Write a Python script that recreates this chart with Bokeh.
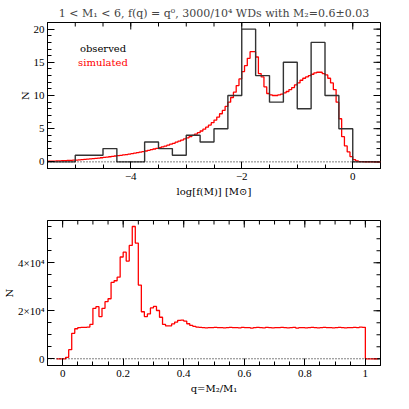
import math
from bokeh.plotting import figure
from bokeh.layouts import column
from bokeh.models import Span, FixedTicker
from bokeh.core.properties import value
from bokeh.embed import file_html
from bokeh.resources import INLINE

# ---------------- data ----------------
# top panel: log f(M) histograms
obs_start, obs_width = -5.5, 0.25
obs_counts = [0, 0, 1, 1, 2, 0, 0, 3, 2, 1, 4, 3,
              5, 10, 20, 13, 9, 15, 8, 18, 10, 5, 0, 0]

sim_start, sim_width = -5.5, 0.05
sim_counts = [
    0.10, 0.11, 0.12, 0.14, 0.16, 0.18, 0.19, 0.21, 0.23, 0.25,
    0.27, 0.30, 0.33, 0.37, 0.40, 0.44, 0.48, 0.52, 0.57, 0.62,
    0.67, 0.72, 0.77, 0.82, 0.88, 0.93, 0.99, 1.04, 1.10, 1.17,
    1.24, 1.31, 1.39, 1.47, 1.55, 1.64, 1.74, 1.84, 1.94, 2.04,
    2.14, 2.26, 2.38, 2.52, 2.66, 2.80, 2.96, 3.12, 3.28, 3.45,
    3.62, 3.80, 3.98, 4.18, 4.40, 4.65, 4.92, 5.22, 5.55, 5.90,
    6.30, 6.75, 7.25, 7.75, 8.35, 9.00, 9.70, 10.5, 11.5, 12.5,
    13.6, 14.5, 15.6, 16.6, 16.6, 15.8, 13.3, 12.8, 11.3, 10.3,
    10.1, 10.0, 10.0, 10.1, 10.2, 10.4, 10.6, 10.9, 11.2, 11.6,
    11.9, 12.3, 12.6, 12.8, 13.0, 13.2, 13.4, 13.5, 13.5, 13.3,
    13.1, 12.6, 11.9, 10.9, 9.0, 6.5, 3.8, 2.4, 1.5, 0.8,
    0.35, 0.15, 0.05, 0.03, 0.02, 0.02, 0.02, 0.02, 0.02, 0.02,
]

# bottom panel: q = M2/M1 histogram (counts in units of 1e4)
q_start, q_width = -0.02, 0.01
q_counts_1e4 = [
    0.0, 0.0, 0.0, 0.06, 0.38, 1.06, 1.25, 1.30, 1.31, 1.31,
    1.32, 1.43, 2.10, 2.17, 1.76, 2.10, 2.38, 2.50, 3.18, 3.25,
    3.40, 4.24, 4.44, 4.07, 4.72, 5.51, 4.82, 3.07, 1.96, 1.76,
    1.87, 2.12, 2.18, 2.01, 1.73, 1.43, 1.37, 1.37, 1.45, 1.53,
    1.60, 1.61, 1.57, 1.46, 1.39, 1.35, 1.32,
    1.31, 1.30, 1.29, 1.30, 1.30, 1.31, 1.30, 1.30, 1.29, 1.30,
    1.31, 1.30, 1.30, 1.29, 1.31, 1.30, 1.30, 1.28, 1.30, 1.31,
    1.30, 1.29, 1.31, 1.30, 1.29, 1.30, 1.30, 1.31, 1.30, 1.29,
    1.30, 1.31, 1.28, 1.30, 1.30, 1.29, 1.30, 1.31, 1.30, 1.29,
    1.30, 1.31, 1.30, 1.30, 1.29, 1.30, 1.31, 1.30, 1.29, 1.30,
    1.30, 1.31, 1.30, 1.32, 1.31,
    0.0, 0.0, 0.0, 0.0,
]

top_xticks = [-4, -2, 0]
top_xtick_labels = ["\u22124", "\u22122", "0"]
top_xminor = [-5.5, -5.0, -4.5, -4.0, -3.5, -3.0, -2.5, -2.0, -1.5, -1.0, -0.5, 0.0, 0.5]
top_yticks = [0, 5, 10, 15, 20]
top_ytick_labels = ["0", "5", "10", "15", "20"]
top_yminor = list(range(-1, 22))
bot_xticks = [0, 0.2, 0.4, 0.6, 0.8, 1.0]
bot_xtick_labels = ["0", "0.2", "0.4", "0.6", "0.8", "1"]
bot_xminor = [-0.05, 0, 0.05, 0.1, 0.15, 0.2, 0.25, 0.3, 0.35, 0.4, 0.45, 0.5,
              0.55, 0.6, 0.65, 0.7, 0.75, 0.8, 0.85, 0.9, 0.95, 1.0, 1.05]
bot_yticks = [0, 20000, 40000]
bot_ytick_labels = ["0", "2\u00d710\u2074", "4\u00d710\u2074"]
bot_yminor = [0, 5000, 10000, 15000, 20000, 25000, 30000, 35000, 40000, 45000, 50000, 55000]

title_text = "1 < M\u2081 < 6, f(q) = q\u2070, 3000/10\u2074 WDs with M\u2082=0.6\u00b10.03"

FONT = "DejaVu Serif"
TICKFONT = "Liberation Serif"
RED = "#ff0000"
BLACK = "#333333"


def step_xy(start, width, counts, scale=1.0):
    edges = [round(start + width * i, 6) for i in range(len(counts) + 1)]
    ys = [c * scale for c in counts] + [counts[-1] * scale]
    return edges, ys


def style(p, xr, yr, xticks, xminor, yticks, yminor, xlabels, ylabels, xlabel, ylabel):
    p.grid.visible = False
    p.outline_line_color = "black"
    p.outline_line_width = 1
    p.background_fill_color = "white"
    p.border_fill_color = "white"
    for ax, ticks, minor, labels, lab in ((p.xaxis[0], xticks, xminor, xlabels, xlabel),
                                          (p.yaxis[0], yticks, yminor, ylabels, ylabel)):
        ax.ticker = FixedTicker(ticks=ticks, minor_ticks=minor)
        ax.major_label_overrides = dict(zip(ticks, labels))
        ax.axis_label = lab
        ax.major_tick_in = 7
        ax.major_tick_out = 0
        ax.minor_tick_in = 4
        ax.minor_tick_out = 0
        ax.axis_line_color = "black"
        ax.major_tick_line_color = "black"
        ax.minor_tick_line_color = "black"
        ax.major_label_text_font = TICKFONT
        ax.major_label_text_font_size = "11px"
        ax.major_label_text_color = "black"
        ax.axis_label_text_font = FONT
        ax.axis_label_text_font_size = "10px"
        ax.axis_label_text_font_style = "normal"
        ax.axis_label_text_color = "black"
    p.xaxis[0].major_label_standoff = 4
    p.yaxis[0].major_label_standoff = 3
    p.xaxis[0].axis_label_standoff = 3
    p.yaxis[0].axis_label_standoff = 0
    # mirrored inward ticks on top and right edges (half of each dash is clipped by the frame)
    p.scatter(x=xticks, y=[yr[1]] * len(xticks), marker="dash", angle=math.pi / 2,
              size=14, line_color="black", line_width=1)
    p.scatter(x=xminor, y=[yr[1]] * len(xminor), marker="dash", angle=math.pi / 2,
              size=8, line_color="black", line_width=1)
    p.scatter(x=[xr[1]] * len(yticks), y=yticks, marker="dash",
              size=14, line_color="black", line_width=1)
    p.scatter(x=[xr[1]] * len(yminor), y=yminor, marker="dash",
              size=8, line_color="black", line_width=1)
    p.add_layout(Span(location=0, dimension="width", line_color="black",
                      line_width=1, line_dash="1 2"))


# ---------------- top panel ----------------
top_xr, top_yr = (-5.5, 0.5), (-1, 21)
top = figure(width=393, height=209, x_range=top_xr, y_range=top_yr,
             output_backend="svg", toolbar_location=None,
             min_border_left=36, min_border_right=13, min_border_top=22,
             min_border_bottom=41)
top.title.text = title_text
top.title.align = "center"
top.title.text_font = FONT
top.title.text_font_size = "11px"
top.title.text_font_style = "normal"
top.title.standoff = 5

style(top, top_xr, top_yr, top_xticks, top_xminor, top_yticks, top_yminor,
      top_xtick_labels, top_ytick_labels, "log[f(M)] [M\u2299]", "N")

sx, sy = step_xy(sim_start, sim_width, sim_counts)
top.step(sx, sy, mode="after", line_color=RED, line_width=1.3)
ox, oy = step_xy(obs_start, obs_width, obs_counts)
top.step(ox, oy, mode="after", line_color=BLACK, line_width=1.4)

top.text(x=[-4.5], y=[17.1], text=["observed"], text_align="center",
         text_baseline="middle", text_color="black",
         text_font=value(FONT), text_font_size="10px")
top.text(x=[-4.5], y=[15.0], text=["simulated"], text_align="center",
         text_baseline="middle", text_color=RED,
         text_font=value(FONT), text_font_size="10px")

# ---------------- bottom panel ----------------
bot_xr, bot_yr = (-0.05, 1.05), (-2800, 57600)
bot = figure(width=393, height=192, x_range=bot_xr, y_range=bot_yr,
             output_backend="svg", toolbar_location=None,
             min_border_left=36, min_border_right=13, min_border_top=11,
             min_border_bottom=36)

style(bot, bot_xr, bot_yr, bot_xticks, bot_xminor, bot_yticks, bot_yminor,
      bot_xtick_labels, bot_ytick_labels, "q=M\u2082/M\u2081", "N")

qx, qy = step_xy(q_start, q_width, q_counts_1e4, scale=1e4)
bot.step(qx, qy, mode="after", line_color=RED, line_width=1.3)

layout = column(top, bot, spacing=0)
open("out.html", "w").write(file_html(layout, INLINE))
